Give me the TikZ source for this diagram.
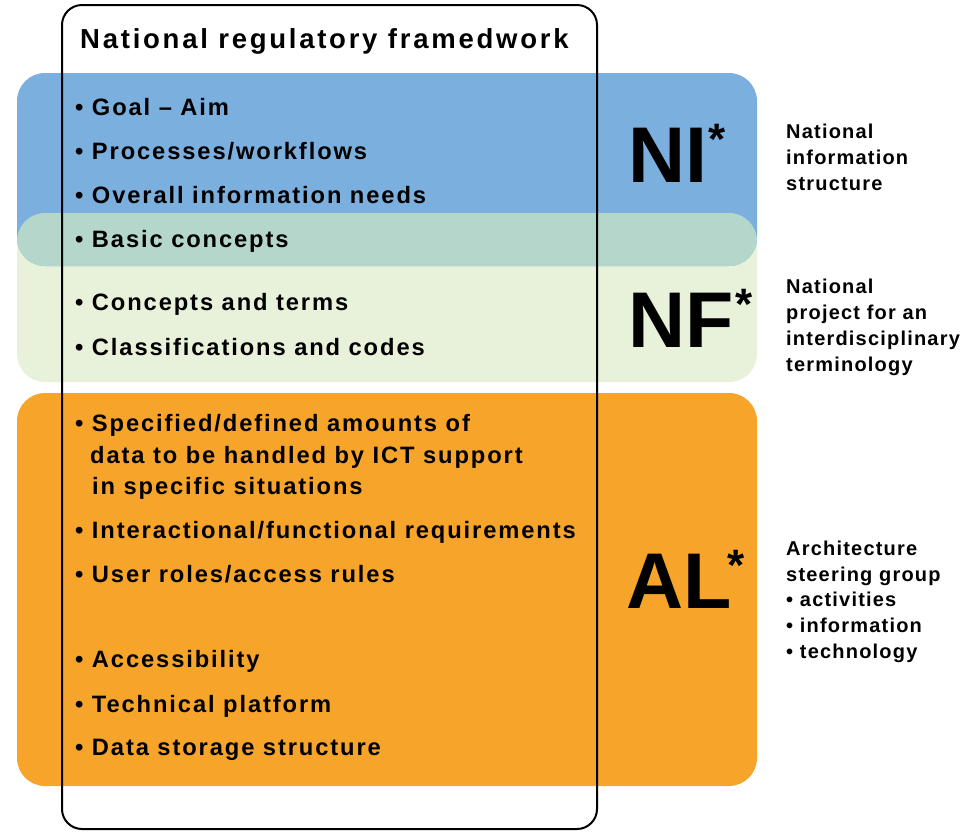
\documentclass[tikz,border=0pt]{standalone}
\usepackage{fontspec}
\setmainfont{Liberation Sans}
\newfontfamily\itemfont[LetterSpace=8]{Liberation Sans}
\newfontfamily\sidefont[LetterSpace=6]{Liberation Sans}
\newfontfamily\titlefont[LetterSpace=10]{Liberation Sans}
\newfontfamily\bigfont{Liberation Sans}
\newcommand{\bigstar}[1]{\kern#1\raisebox{28pt}{\fontsize{44}{44}\selectfont *}}
\definecolor{nblue}{HTML}{7BAFDE}
\definecolor{nteal}{HTML}{B4D6CB}
\definecolor{ngreen}{HTML}{E8F1D9}
\definecolor{norange}{HTML}{F7A42B}
\begin{document}
\begin{tikzpicture}[x=1pt,y=-1pt,
  item/.style={anchor=base west,inner sep=0pt,font=\itemfont\bfseries\fontsize{23.7}{28}\selectfont},
  side/.style={anchor=base west,inner sep=0pt,font=\sidefont\bfseries\fontsize{20}{24}\selectfont},
  big/.style={anchor=base west,inner sep=0pt,font=\bigfont\bfseries\fontsize{79}{80}\selectfont},
  ttl/.style={anchor=base west,inner sep=0pt,font=\titlefont\bfseries\fontsize{27.5}{31}\selectfont},
  band/.style={rounded corners=28pt}]
\useasboundingbox (0,0) rectangle (963,831);
% bands
\fill[ngreen,band] (17,213) rectangle (757,382);
\fill[nblue,band] (17,73) rectangle (757,266);
\begin{scope}
  \clip[band] (17,73) rectangle (757,266);
  \fill[nteal,band] (17,213) rectangle (757,382);
\end{scope}
\fill[norange,band] (17,393) rectangle (757,786);
% frame
\draw[line width=2pt,rounded corners=20pt] (62,5) rectangle (597,829);
% title
\node[ttl] (title) at (80,48) {National regulatory framedwork};
% left items
\node[item] (i1) at (75,115) {• Goal – Aim};
\node[item] (i2) at (75,159) {• Processes/workflows};
\node[item] (i3) at (75,203) {• Overall information needs};
\node[item] (i4) at (75,247) {• Basic concepts};
\node[item] (i5) at (75,310) {• Concepts and terms};
\node[item] (i6) at (75,355) {• Classifications and codes};
\node[item] (i7) at (75,431) {• Specified/defined amounts of};
\node[item] (i7b) at (90,463) {data to be handled by ICT support};
\node[item] (i7c) at (92,494) {in specific situations};
\node[item] (i8) at (75,538) {• Interactional/functional requirements};
\node[item] (i9) at (75,582) {• User roles/access rules};
\node[item] (i10) at (75,667) {• Accessibility};
\node[item] (i11) at (75,712) {• Technical platform};
\node[item] (i12) at (75,755) {• Data storage structure};
% big labels
\node[big] (ni) at (628,182) {NI\bigstar{1pt}};
\node[big] (nf) at (628,347) {NF\bigstar{2pt}};
\node[big] (al) at (626,608) {AL\bigstar{-4pt}};
% right texts
\node[side] (r1) at (786,138) {National};
\node[side] (r2) at (786,164) {information};
\node[side] (r3) at (786,190) {structure};
\node[side] (r4) at (786,293) {National};
\node[side] (r5) at (786,319) {project for an};
\node[side] (r6) at (786,345) {interdisciplinary};
\node[side] (r7) at (786,371) {terminology};
\node[side] (r8) at (786,555) {Architecture};
\node[side] (r9) at (786,581) {steering group};
\node[side] (r10) at (786,606) {• activities};
\node[side] (r11) at (786,632) {• information};
\node[side] (r12) at (786,658) {• technology};
\end{tikzpicture}
\end{document}
